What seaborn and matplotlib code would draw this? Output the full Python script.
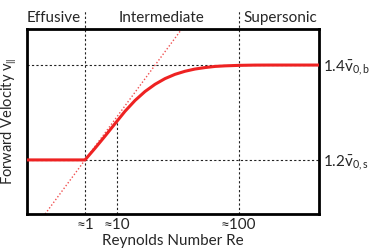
import numpy as np
import pandas as pd
import matplotlib
matplotlib.use("Agg")
import matplotlib.pyplot as plt
import matplotlib.transforms as mtransforms
import seaborn as sns

# ---- data (arbitrary Reynolds-number axis units 0..100) ----
curve_x = [0.0, 19.86, 23.29, 26.71, 30.14, 33.56, 36.99, 40.41, 43.84, 47.26,
           50.68, 54.11, 57.53, 60.96, 64.38, 67.81, 72.95, 78.08, 83.22, 100.0]
curve_y = [1.2000, 1.2000, 1.2246, 1.2501, 1.2764, 1.3025, 1.3253, 1.3442, 1.3594,
           1.3714, 1.3804, 1.3869, 1.3916, 1.3947, 1.3971, 1.3983, 1.3994, 1.3999,
           1.4000, 1.4000]
tangent_x = [6.2, 53.0]
tangent_y = [1.086, 1.476]
tick_pos = [19.9, 30.7, 72.5]
tick_labels = ["≈1", "≈10", "≈100"]
level_vals = [1.2, 1.4]
level_labels = [r"$1.2\bar{\mathrm{v}}_{0,\mathrm{s}}$", r"$1.4\bar{\mathrm{v}}_{0,\mathrm{b}}$"]
regions = ["Effusive", "Intermediate", "Supersonic"]
region_x = [9.3, 46.2, 86.6]
y_at_10 = 1.281

sns.set_theme(style="white")
plt.rcParams["font.family"] = ["Lato", "DejaVu Sans"]
plt.rcParams["mathtext.fontset"] = "custom"
plt.rcParams["mathtext.rm"] = "Lato"
plt.rcParams["mathtext.it"] = "Lato:italic"

fig = plt.figure(figsize=(3.74, 2.5), dpi=100)
ax = fig.add_axes([27/374, 1 - 214/250, 292/374, 185/250])
ax.set_xlim(0, 100)
ax.set_ylim(1.086, 1.476)

dot = dict(color="#222222", lw=0.8, linestyle=(0, (2, 2)))
# horizontal guide lines
for v in level_vals:
    ax.axhline(v, **dot, zorder=1)
# vertical guide lines
ax.axvline(tick_pos[0], ymin=0, ymax=(214 - 10) / 185, clip_on=False, **dot, zorder=1)
ax.axvline(tick_pos[2], ymin=0, ymax=(214 - 10) / 185, clip_on=False, **dot, zorder=1)
ax.plot([tick_pos[1], tick_pos[1]], [1.086, y_at_10], **dot, zorder=1)

# tangent
df_t = pd.DataFrame({"x": tangent_x, "y": tangent_y})
sns.lineplot(data=df_t, x="x", y="y", ax=ax, color="#f05050", lw=1.0,
             linestyle=(0, (1, 1.5)), zorder=2)
# curve
df = pd.DataFrame({"x": curve_x, "y": curve_y})
sns.lineplot(data=df, x="x", y="y", ax=ax, color="#ee2222", lw=2.2, zorder=3,
             sort=False)

# axes styling
for s in ax.spines.values():
    s.set_linewidth(2.0)
    s.set_color("black")
ax.set_xticks(tick_pos)
ax.set_xticklabels(tick_labels, fontsize=11)
ax.yaxis.tick_right()
ax.set_yticks(level_vals)
ax.set_yticklabels(level_labels, fontsize=11)
ax.tick_params(length=0, pad=3)
ax.set_xlabel("Reynolds Number Re", fontsize=11, labelpad=1)
ax.set_ylabel(r"Forward Velocity v$_{\|}$", fontsize=10.5, labelpad=6)
ax.yaxis.set_label_position("left")

trans = mtransforms.blended_transform_factory(ax.transData, ax.transAxes)
for x, t in zip(region_x, regions):
    ax.text(x, 1.02, t, transform=trans, ha="center", va="bottom", fontsize=11)

fig.savefig("out.png", dpi=100)
